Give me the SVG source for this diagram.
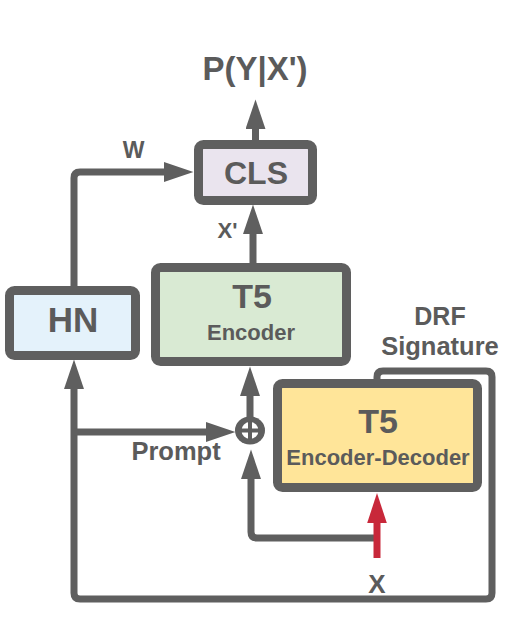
<svg xmlns="http://www.w3.org/2000/svg" width="507" height="641" viewBox="0 0 507 641">
<style>
.box{stroke:#5f5f5f;stroke-width:9}
.con{fill:none;stroke:#5f5f5f;stroke-width:7;stroke-linejoin:round}
.red{fill:none;stroke:#c8283a;stroke-width:7}
text{font-family:"Liberation Sans",Arial,sans-serif;font-weight:bold;fill:#5b5b5b;text-anchor:middle}
</style>
<defs>
<marker id="ah" markerUnits="userSpaceOnUse" markerWidth="30" markerHeight="20" viewBox="0 0 28 19" refX="1" refY="9.5" orient="auto"><path d="M0,0 L28,9.5 L0,19 z" fill="#5f5f5f"/></marker>
<marker id="ahr" markerUnits="userSpaceOnUse" markerWidth="30" markerHeight="20" viewBox="0 0 29 19" refX="1" refY="9.5" orient="auto"><path d="M0,0 L29,9.5 L0,19 z" fill="#c8283a"/></marker>
</defs>
<g id="connectors">
<path class="con" d="M255.5,141 V128" marker-end="url(#ah)"/>
<path class="con" d="M253,263 V233" marker-end="url(#ah)"/>
<path class="con" d="M74,287 V178 Q74,172 80,172 H165" marker-end="url(#ah)"/>
<path class="con" d="M377,381 V377 Q377,371 383,371 H486 Q492,371 492,377 V593 Q492,599 486,599 H80 Q74,599 74,593 V388" marker-end="url(#ah)"/>
<path class="con" d="M74,432 H207" marker-end="url(#ah)"/>
<path class="con" d="M250,418 V395" marker-end="url(#ah)"/>
<path class="con" d="M377,538 H257 Q251,538 251,532 V478" marker-end="url(#ah)"/>
<path class="red" d="M377,558 V522" marker-end="url(#ahr)"/>
</g>
<g id="plus">
<ellipse cx="250" cy="430.5" rx="15" ry="14" fill="#5f5f5f"/>
<circle cx="250" cy="430.5" r="8.5" fill="#ffffff"/>
<path d="M241,430.5 H259 M250,421.5 V439.5" stroke="#5f5f5f" stroke-width="4"/>
</g>
<g id="cls">
<rect class="box" x="198.5" y="144.5" width="114" height="56" rx="5" fill="#eae4ee"/>
<text x="256" y="184" font-size="32">CLS</text>
</g>
<g id="encoder">
<rect class="box" x="155.5" y="267.5" width="191" height="94" rx="5" fill="#d9ead3"/>
<text x="252" y="308" font-size="34">T5</text>
<text x="251" y="340" font-size="22">Encoder</text>
</g>
<g id="hn">
<rect class="box" x="9.5" y="290.5" width="126" height="65" rx="5" fill="#e4f2fb"/>
<text x="73" y="332" font-size="35">HN</text>
</g>
<g id="encdec">
<rect class="box" x="277.5" y="383.5" width="200" height="104" rx="5" fill="#ffe599"/>
<text x="378" y="433" font-size="34">T5</text>
<text x="378" y="465" font-size="22">Encoder-Decoder</text>
</g>
<g id="labels">
<text x="255" y="80" font-size="33">P(Y|X')</text>
<text x="133.5" y="158" font-size="23">W</text>
<text x="227.5" y="238" font-size="22">X'</text>
<text x="440" y="325" font-size="25">DRF</text>
<text x="440" y="355" font-size="25.5">Signature</text>
<text x="176" y="460" font-size="25.5">Prompt</text>
<text x="377" y="593" font-size="26">X</text>
</g>
</svg>
